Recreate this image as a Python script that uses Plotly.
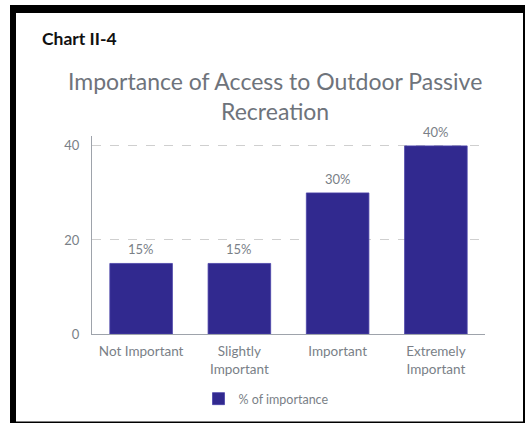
import plotly.graph_objects as go

categories = ["Not Important", "Slightly<br>Important", "Important", "Extremely<br>Important"]
values = [15, 15, 30, 40]
value_labels = ["15%", "15%", "30%", "40%"]
y_ticks = [0, 20, 40]
series_name = "% of importance"
title_text = "Importance of Access to Outdoor Passive<br>Recreation"
chart_label = "Chart II-4"

W, H = 525, 423
PL, PR, PT, PB = 92, 485, 136, 334  # plot-area pixel box

def px(x):
    return x / W

def py(y):
    return (H - y) / H

bar_color = "#31298f"
gray = "#7a7f87"

fig = go.Figure()
fig.add_trace(go.Bar(
    x=categories, y=values, name=series_name,
    marker=dict(color=bar_color, line=dict(color="#4a43a8", width=0.8)),
    showlegend=True,
))

annotations = []
for c, v, t in zip(categories, values, value_labels):
    annotations.append(dict(x=c, y=v, xref="x", yref="y", text=t, showarrow=False,
                            yanchor="bottom", yshift=4,
                            font=dict(family="Lato", size=13, color=gray)))

annotations.append(dict(x=px(40), y=py(38), xref="paper", yref="paper", text="<b>" + chart_label + "</b>",
                        showarrow=False, xanchor="left", yanchor="middle",
                        font=dict(family="Lato", size=17.5, color="#111111")))
annotations.append(dict(x=px(275), y=py(96), xref="paper", yref="paper", text=title_text,
                        showarrow=False, xanchor="center", yanchor="middle", align="center",
                        font=dict(family="Lato", size=23, color="#6e737b")))

shapes = []
def rect(x0, y0, x1, y1):
    shapes.append(dict(type="rect", xref="paper", yref="paper",
                       x0=px(x0), x1=px(x1), y0=py(y0), y1=py(y1),
                       fillcolor="black", line=dict(width=0), layer="above"))
rect(10, 5, 16, 423)
rect(10, 5, 525, 13)
rect(523, 5, 525, 423)
rect(10, 421.5, 525, 423)

fig.update_layout(
    width=W, height=H,
    margin=dict(l=0, r=0, t=0, b=0, pad=0),
    paper_bgcolor="white", plot_bgcolor="white",
    font=dict(family="Lato", color=gray, size=13),
    bargap=0.363,
    xaxis=dict(domain=[px(PL), px(PR)], automargin=False,
               showline=True, linecolor="#9ea3ab", linewidth=1, ticks="",
               ticklabelstandoff=5,
               tickfont=dict(family="Lato", size=13.5, color=gray), showgrid=False),
    yaxis=dict(domain=[py(PB), py(PT)], automargin=False,
               range=[0, 42.1], tickvals=y_ticks, showline=True, linecolor="#9ea3ab",
               linewidth=1, showgrid=True, gridcolor="#cfcfcf", griddash="dash",
               gridwidth=1, zeroline=False, ticks="", ticklen=0, ticklabelstandoff=9,
               tickfont=dict(family="Lato", size=13, color=gray)),
    legend=dict(orientation="h", x=px(266), xanchor="center", y=py(399), yanchor="middle",
                font=dict(family="Lato", size=12.5, color=gray), itemwidth=30),
    annotations=annotations,
    shapes=shapes,
)

fig.write_html("out.html", config={"displayModeBar": False},
               post_script=("document.documentElement.style.overflow='hidden';"
                            "document.body.style.overflow='hidden';"
                            "document.body.style.margin='0';document.body.style.padding='0';"))
